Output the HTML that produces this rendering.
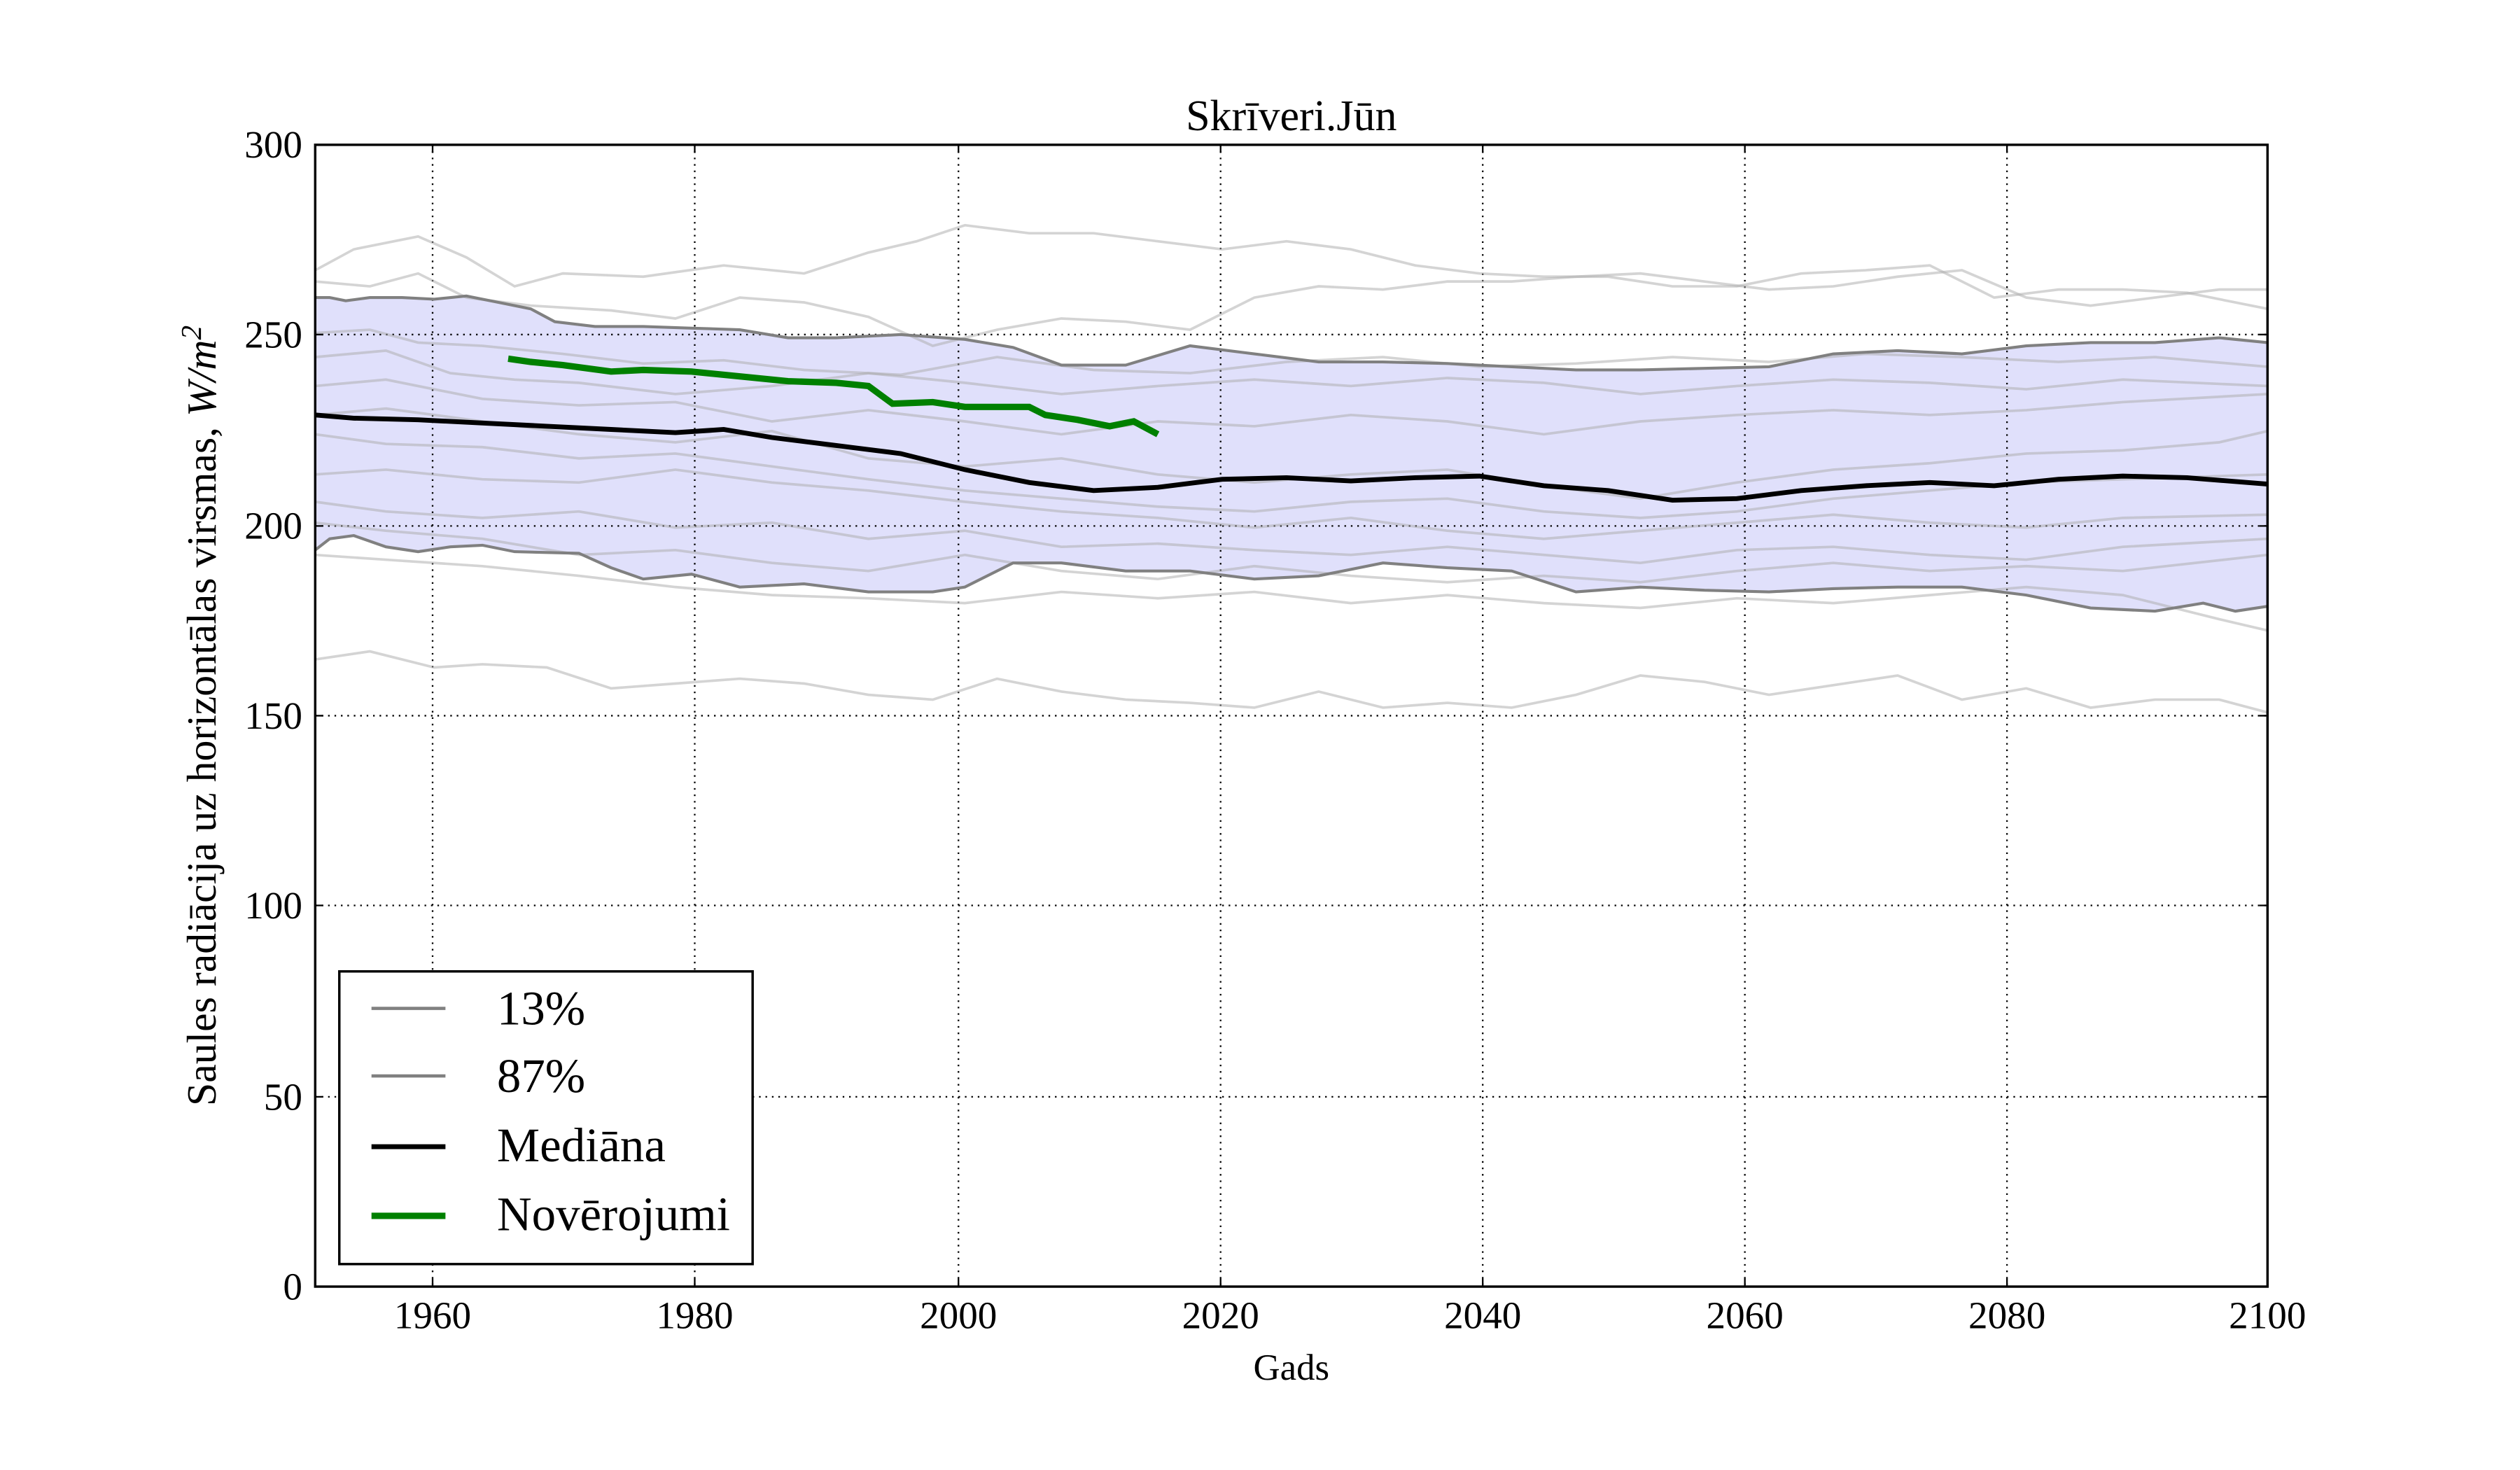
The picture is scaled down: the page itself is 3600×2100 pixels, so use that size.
<!DOCTYPE html>
<html><head><meta charset="utf-8"><style>html,body{margin:0;padding:0;background:#fff}svg{display:block}</style></head>
<body>
<svg width="3600" height="2100" viewBox="0 0 1567 914" xmlns="http://www.w3.org/2000/svg" font-family="Liberation Serif, serif">
<rect width="1567" height="914" fill="#fff"/>
<polygon fill="#e0e0fb" points="196,185 205,185 215,187 230,185 250,185 270,186 290,184 310,188 330,192 345,200 370,203 400,203 430,204 460,205 490,210 520,210 560,208 600,211 630,216 660,227 700,227 740,215 780,220 820,225 860,225 900,226 940,228 980,230 1020,230 1060,229 1100,228 1140,220 1180,218 1220,220 1260,215 1300,213 1340,213 1380,210 1410,213 1410,377 1390,380 1370,375 1340,380 1300,378 1260,370 1220,365 1180,365 1140,366 1100,368 1060,367 1020,365 980,368 940,355 900,353 860,350 820,358 780,360 740,355 700,355 660,350 630,350 600,365 580,368 540,368 500,363 460,365 430,357 400,360 380,353 360,344 320,343 300,339 280,340 260,343 240,340 220,333 205,335 196,342"/>
<g stroke="#000" stroke-width="1" stroke-dasharray="1,3">
<line x1="269" y1="90" x2="269" y2="800"/><line x1="432" y1="90" x2="432" y2="800"/><line x1="596" y1="90" x2="596" y2="800"/><line x1="759" y1="90" x2="759" y2="800"/><line x1="922" y1="90" x2="922" y2="800"/><line x1="1085" y1="90" x2="1085" y2="800"/><line x1="1248" y1="90" x2="1248" y2="800"/>
<line x1="196" y1="208" x2="1410" y2="208"/><line x1="196" y1="327" x2="1410" y2="327"/><line x1="196" y1="445" x2="1410" y2="445"/><line x1="196" y1="563" x2="1410" y2="563"/><line x1="196" y1="682" x2="1410" y2="682"/>
</g>
<g fill="none" stroke="#aaa" stroke-opacity="0.5" stroke-width="1.6">
<polyline points="196,168 220,155 260,147 290,160 320,178 350,170 400,172 450,165 500,170 540,157 570,150 600,140 640,145 680,145 720,150 760,155 800,150 840,155 880,165 920,170 960,172 1000,172 1040,178 1080,178 1120,170 1160,168 1200,165 1240,185 1280,180 1320,180 1360,182 1410,192"/>
<polyline points="196,175 230,178 260,170 290,185 330,190 380,193 420,198 460,185 500,188 540,197 580,215 620,205 660,198 700,200 740,205 780,185 820,178 860,180 900,175 940,175 980,172 1020,170 1060,175 1100,180 1140,178 1180,172 1220,168 1260,185 1300,190 1340,185 1380,180 1410,180"/>
<polyline points="196,410 230,405 270,415 300,413 340,415 380,428 420,425 460,422 500,425 540,432 580,435 620,422 660,430 700,435 740,437 780,440 820,430 860,440 900,437 940,440 980,432 1020,420 1060,424 1100,432 1140,426 1180,420 1220,435 1260,428 1300,440 1340,435 1380,435 1410,443"/>
<polyline points="196,207 230,205 260,213 300,215 350,220 400,226 450,224 500,230 560,233 620,222 680,230 740,232 800,225 860,222 920,228 980,226 1040,222 1100,225 1160,220 1220,222 1280,225 1340,222 1410,228"/>
<polyline points="196,222 240,218 280,232 320,236 360,238 420,245 480,240 540,232 600,238 660,245 720,240 780,236 840,240 900,235 960,238 1020,245 1080,240 1140,236 1200,238 1260,242 1320,236 1410,240"/>
<polyline points="196,240 240,236 300,248 360,252 420,250 480,262 540,255 600,262 660,270 720,262 780,265 840,258 900,262 960,270 1020,262 1080,258 1140,255 1200,258 1260,255 1320,250 1410,245"/>
<polyline points="196,258 240,254 300,262 360,270 420,275 480,268 540,285 600,290 660,285 720,295 780,300 840,295 900,292 960,302 1020,310 1080,300 1140,292 1200,288 1260,282 1320,280 1380,275 1410,268"/>
<polyline points="196,270 240,276 300,278 360,285 420,282 480,290 540,298 600,305 660,310 720,315 780,318 840,312 900,310 960,318 1020,322 1080,318 1140,310 1200,305 1260,300 1320,298 1410,295"/>
<polyline points="196,295 240,292 300,298 360,300 420,292 480,300 540,305 600,312 660,318 720,322 780,328 840,322 900,330 960,335 1020,330 1080,325 1140,320 1200,325 1260,328 1320,322 1410,320"/>
<polyline points="196,312 240,318 300,322 360,318 420,328 480,325 540,335 600,330 660,340 720,338 780,342 840,345 900,340 960,345 1020,350 1080,342 1140,340 1200,345 1260,348 1320,340 1410,335"/>
<polyline points="196,325 240,330 300,335 360,345 420,342 480,350 540,355 600,345 660,355 720,360 780,352 840,358 900,362 960,358 1020,362 1080,355 1140,350 1200,355 1260,352 1320,355 1410,345"/>
<polyline points="196,345 240,348 300,352 360,358 420,365 480,370 540,372 600,375 660,368 720,372 780,368 840,375 900,370 960,375 1020,378 1080,372 1140,375 1200,370 1260,365 1320,370 1380,385 1410,392"/>
</g>
<g fill="none" stroke="#808080" stroke-width="1.8">
<polyline points="196,185 205,185 215,187 230,185 250,185 270,186 290,184 310,188 330,192 345,200 370,203 400,203 430,204 460,205 490,210 520,210 560,208 600,211 630,216 660,227 700,227 740,215 780,220 820,225 860,225 900,226 940,228 980,230 1020,230 1060,229 1100,228 1140,220 1180,218 1220,220 1260,215 1300,213 1340,213 1380,210 1410,213"/>
<polyline points="196,342 205,335 220,333 240,340 260,343 280,340 300,339 320,343 360,344 380,353 400,360 430,357 460,365 500,363 540,368 580,368 600,365 630,350 660,350 700,355 740,355 780,360 820,358 860,350 900,353 940,355 980,368 1020,365 1060,367 1100,368 1140,366 1180,365 1220,365 1260,370 1300,378 1340,380 1370,375 1390,380 1410,377"/>
</g>
<polyline fill="none" stroke="#000" stroke-width="3" points="196,258 220,260 260,261 300,263 340,265 380,267 420,269 450,267 480,272 520,277 560,282 600,292 640,300 680,305 720,303 760,298 800,297 840,299 880,297 920,296 960,302 1000,305 1040,311 1080,310 1120,305 1160,302 1200,300 1240,302 1280,298 1320,296 1360,297 1410,301"/>
<polyline fill="none" stroke="#008000" stroke-width="4" points="316,223 330,225 350,227 380,231 400,230 430,231 460,234 490,237 520,238 540,240 555,251 580,250 600,253 640,253 650,258 670,261 690,265 705,262 720,270"/>
<rect x="196" y="90" width="1214" height="710" fill="none" stroke="#000" stroke-width="1.5"/>
<g stroke="#000" stroke-width="1">
<path d="M269,800v-5M432,800v-5M596,800v-5M759,800v-5M922,800v-5M1085,800v-5M1248,800v-5M269,90v5M432,90v5M596,90v5M759,90v5M922,90v5M1085,90v5M1248,90v5"/>
<path d="M196,208h5M196,327h5M196,445h5M196,563h5M196,682h5M1410,208h-5M1410,327h-5M1410,445h-5M1410,563h-5M1410,682h-5"/>
</g>
<g font-size="24" text-anchor="middle" fill="#000">
<text x="269" y="826">1960</text><text x="432" y="826">1980</text><text x="596" y="826">2000</text><text x="759" y="826">2020</text><text x="922" y="826">2040</text><text x="1085" y="826">2060</text><text x="1248" y="826">2080</text><text x="1410" y="826">2100</text>
</g>
<g font-size="24" text-anchor="end" fill="#000">
<text x="188" y="98">300</text><text x="188" y="216">250</text><text x="188" y="335">200</text><text x="188" y="453">150</text><text x="188" y="571">100</text><text x="188" y="690">50</text><text x="188" y="808">0</text>
</g>
<text x="803" y="81" font-size="27" text-anchor="middle">Skrīveri.Jūn</text>
<text x="803" y="858" font-size="23" text-anchor="middle">Gads</text>
<text transform="translate(134,445) rotate(-90)" font-size="26" text-anchor="middle">Saules radiācija uz horizontālas virsmas, <tspan font-style="italic">W/m</tspan><tspan font-style="italic" font-size="18" dy="-9">2</tspan></text>
<rect x="211" y="604" width="257" height="182" fill="#fff" stroke="#000" stroke-width="1.5"/>
<g stroke-width="2">
<line x1="231" y1="627" x2="277" y2="627" stroke="#808080"/>
<line x1="231" y1="669" x2="277" y2="669" stroke="#808080"/>
<line x1="231" y1="713" x2="277" y2="713" stroke="#000" stroke-width="3"/>
<line x1="231" y1="756" x2="277" y2="756" stroke="#008000" stroke-width="4"/>
</g>
<g font-size="30" fill="#000">
<text x="309" y="637">13%</text><text x="309" y="679">87%</text><text x="309" y="722">Mediāna</text><text x="309" y="765">Novērojumi</text>
</g>
</svg>
</body></html>
